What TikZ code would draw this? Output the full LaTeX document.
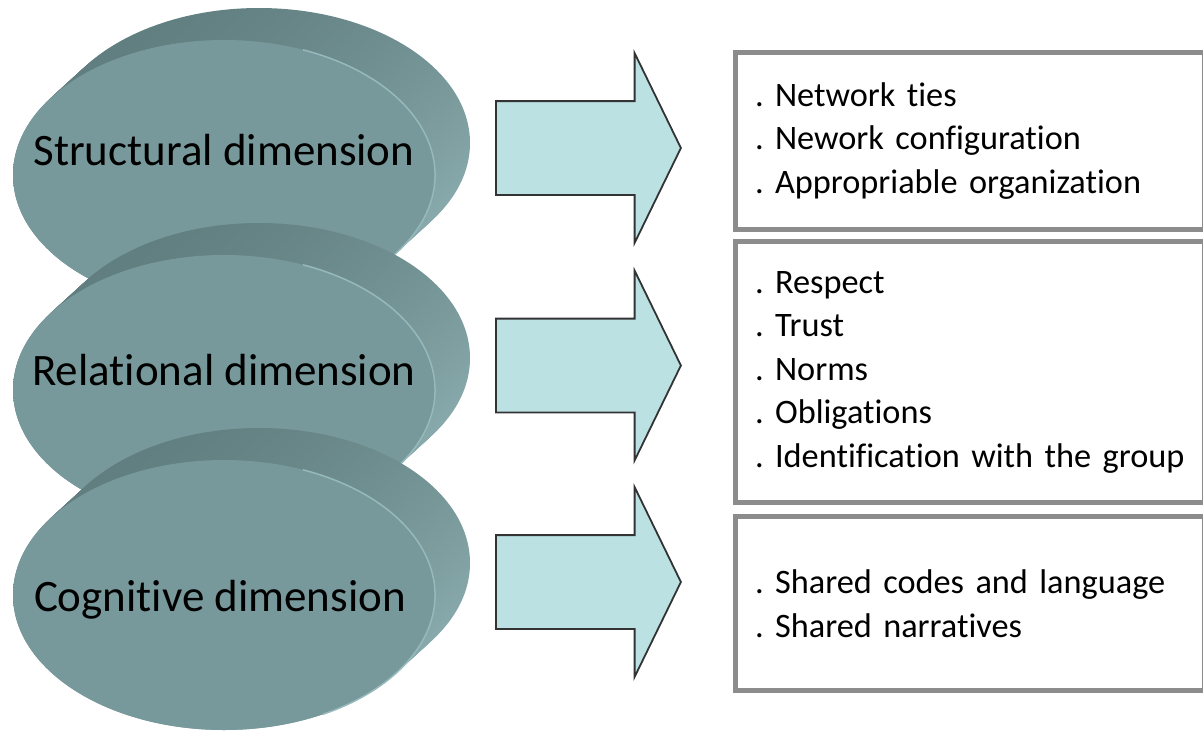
\documentclass[tikz,border=0pt]{standalone}
\usepackage{fontspec}
\setmainfont[Ligatures=NoCommon]{Carlito}
\usepackage{xcolor}
\usepackage{tikz}
\usetikzlibrary{positioning, shapes.arrows, shadings}

\definecolor{discface}{RGB}{120,153,155}
\definecolor{discdark}{RGB}{90,118,120}
\definecolor{discmid}{RGB}{112,143,145}
\definecolor{disclight}{RGB}{148,182,184}
\definecolor{discedge}{RGB}{150,185,187}
\definecolor{arrowfill}{RGB}{188,225,226}
\definecolor{boxgray}{RGB}{140,140,140}

\begin{document}
\begin{tikzpicture}[
        x=1pt, y=-1pt,
        every node/.style={font=\fontsize{34.3}{43.5}\selectfont\frenchspacing},
        disclabel/.style={font=\fontsize{45}{54}\selectfont, inner sep=0pt},
        blockarrow/.style={single arrow, draw=black!80, line width=1.8pt, fill=arrowfill,
            minimum height=185pt, single arrow head extend=48pt,
            single arrow tip angle=128, inner xsep=0pt, inner ysep=46pt, anchor=tail},
        listbox/.style={rectangle, draw=boxgray, line width=5pt, fill=white,
            minimum width=468.5pt, text width=429.5pt, inner xsep=19.5pt, align=left}
    ]
        \clip (0,0) rectangle (1203,732);

        % the three discs, back to front
        \foreach \cy/\tx/\ty/\lbl/\nm in {175/224/150/Structural dimension/struct,
                                         390/224/370/Relational dimension/relat,
                                         595/220/600/Cognitive dimension/cogn}{
            \foreach \k in {0,...,16}
                \shade[upper left=discdark, upper right=discmid, lower left=discmid, lower right=disclight]
                    ({259-35*\k/16},{\cy-32+32*\k/16}) ellipse [x radius=211, y radius=135];
            \fill[discface] (224,\cy) ellipse [x radius=211, y radius=135];
            \draw[discedge, line width=1.5pt] (224,\cy) ++(-68:211 and 135)
                arc [start angle=-68, end angle=62, x radius=211, y radius=135];
            \node[disclabel] (\nm) at (\tx,\ty) {\lbl};
        }

        \node[blockarrow] (structarrow) at (495,148) {};
        \node[blockarrow] (relatarrow) at (495,365.5) {};
        \node[blockarrow] (cognarrow) at (495,582) {};

        \node[listbox, minimum height=177pt] (structlist) at (969.75,141)
            {\mbox{. Network ties}\\\mbox{. Nework configuration}\\\mbox{. Appropriable organization}};
        \node[listbox, minimum height=261pt] (relatlist) at (969.75,372)
            {\mbox{. Respect}\\\mbox{. Trust}\\\mbox{. Norms}\\\mbox{. Obligations}\\\mbox{. Identification with the group}};
        \node[listbox, minimum height=174pt] (cognlist) at (969.75,603.5)
            {\mbox{. Shared codes and language}\\\mbox{. Shared narratives}};

    \end{tikzpicture}
\end{document}
